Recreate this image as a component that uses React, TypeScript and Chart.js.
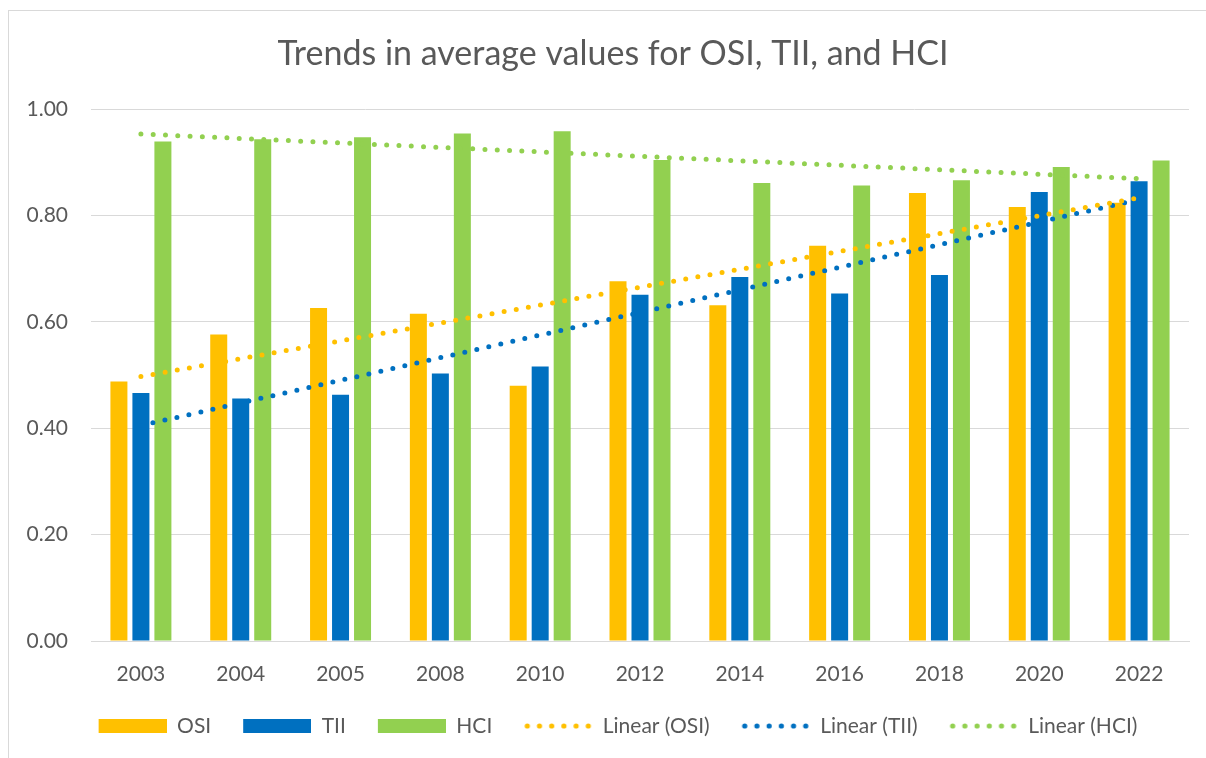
import React, { useEffect, useRef } from "react";
import { Chart, registerables } from "chart.js";

Chart.register(...registerables);

const categories = ["2003", "2004", "2005", "2008", "2010", "2012", "2014", "2016", "2018", "2020", "2022"];
const osiValues = [0.488, 0.576, 0.626, 0.615, 0.480, 0.676, 0.631, 0.743, 0.842, 0.816, 0.824];
const tiiValues = [0.466, 0.456, 0.463, 0.503, 0.516, 0.651, 0.684, 0.653, 0.688, 0.844, 0.864];
const hciValues = [0.939, 0.943, 0.947, 0.954, 0.958, 0.904, 0.861, 0.856, 0.866, 0.891, 0.903];
// Linear trend lines: values at first and last category
const osiTrendEnds = [0.497, 0.833];
const tiiTrendEnds = [0.405, 0.830];
const hciTrendEnds = [0.953, 0.869];
const yTicks = [0, 0.2, 0.4, 0.6, 0.8, 1.0];

const seriesNames = ["OSI", "TII", "HCI", "Linear (OSI)", "Linear (TII)", "Linear (HCI)"];
const COLORS = { osi: "#FFC000", tii: "#0070C0", hci: "#92D050" };
const FONT = "Lato, 'Open Sans', sans-serif";
const TEXT = "#595959";

function trendSeries(ends: number[]) {
  return categories.map((_, i) => (i === 0 ? ends[0] : i === categories.length - 1 ? ends[1] : null));
}

function makeSwatch(color: string, dotted: boolean): HTMLCanvasElement {
  const lead = 24;
  const c = document.createElement("canvas");
  c.width = 68 + lead;
  c.height = 14;
  const g = c.getContext("2d")!;
  g.fillStyle = color;
  if (dotted) {
    for (let i = 0; i < 6; i++) {
      g.beginPath();
      g.arc(lead + 3 + i * 12.2, 7, 2.6, 0, Math.PI * 2);
      g.fill();
    }
  } else {
    g.fillRect(lead, 0, 68, 14);
  }
  return c;
}

// shifts the title and legend boxes a little to the right, as in the reference
const shiftBoxes = {
  id: "shiftBoxes",
  afterLayout(chart: any) {
    if (chart.titleBlock) chart.titleBlock.left += 28;
    if (chart.legend) chart.legend.left += 14;
  },
};

export default function App() {
  const ref = useRef<HTMLCanvasElement | null>(null);

  useEffect(() => {
    if (!ref.current) return;
    const swatches = [
      makeSwatch(COLORS.osi, false),
      makeSwatch(COLORS.tii, false),
      makeSwatch(COLORS.hci, false),
      makeSwatch(COLORS.osi, true),
      makeSwatch(COLORS.tii, true),
      makeSwatch(COLORS.hci, true),
    ];
    const lineDs = (label: string, data: (number | null)[], color: string) => ({
      type: "line" as const,
      label,
      data,
      borderColor: color,
      backgroundColor: color,
      borderWidth: 5,
      borderDash: [0, 12.3],
      borderCapStyle: "round" as const,
      pointRadius: 0,
      spanGaps: true,
      fill: false,
      order: 0,
    });
    const barDs = (label: string, data: number[], color: string) => ({
      type: "bar" as const,
      label,
      data,
      backgroundColor: color,
      borderWidth: 0,
      categoryPercentage: 0.661,
      barPercentage: 0.773,
      order: 1,
    });

    const chart = new Chart(ref.current, {
      type: "bar",
      plugins: [shiftBoxes],
      data: {
        labels: categories,
        datasets: [
          barDs(seriesNames[0], osiValues, COLORS.osi),
          barDs(seriesNames[1], tiiValues, COLORS.tii),
          barDs(seriesNames[2], hciValues, COLORS.hci),
          lineDs(seriesNames[3], trendSeries(osiTrendEnds), COLORS.osi),
          lineDs(seriesNames[4], trendSeries(tiiTrendEnds), COLORS.tii),
          lineDs(seriesNames[5], trendSeries(hciTrendEnds), COLORS.hci),
        ] as any,
      },
      options: {
        animation: false,
        responsive: false,
        devicePixelRatio: 1,
        layout: { padding: { left: 0, right: 17, top: 0, bottom: 11.5 } },
        plugins: {
          title: {
            display: true,
            text: "Trends in average values for OSI, TII, and HCI",
            color: TEXT,
            font: { family: FONT, size: 34, weight: "normal" as any },
            padding: { top: 23, bottom: 34.2 },
          },
          legend: {
            display: true,
            position: "bottom",
            labels: {
              color: TEXT,
              font: { family: FONT, size: 21 },
              usePointStyle: true,
              pointStyleWidth: 92,
              padding: 8,
              generateLabels: () =>
                seriesNames.map((name, i) => ({
                  text: name,
                  fillStyle: "transparent",
                  strokeStyle: "transparent",
                  lineWidth: 0,
                  pointStyle: swatches[i],
                  hidden: false,
                  datasetIndex: i,
                  fontColor: TEXT,
                })) as any,
            },
          },
          tooltip: { enabled: false },
        },
        scales: {
          x: {
            grid: { display: false, drawTicks: false },
            border: { display: true, color: "#d9d9d9", width: 1 },
            ticks: { color: TEXT, font: { family: FONT, size: 21 }, padding: 21, maxRotation: 0 },
            afterFit: (s: any) => {
              s.height = 66.5;
            },
          },
          y: {
            min: 0,
            max: 1,
            afterBuildTicks: (s: any) => {
              s.ticks = yTicks.map((v) => ({ value: v }));
            },
            grid: { color: "#d9d9d9", lineWidth: 1, drawTicks: false },
            border: { display: false },
            ticks: {
              color: TEXT,
              font: { family: FONT, size: 21 },
              padding: 23,
              callback: (v: any) => Number(v).toFixed(2),
            },
            afterFit: (s: any) => {
              s.width = 82;
            },
          },
        },
      },
    });
    return () => chart.destroy();
  }, []);

  return (
    <div
      style={{
        position: "fixed",
        left: 8,
        top: 10,
        width: 1198,
        height: 748,
        borderTop: "1px solid #d9d9d9",
        borderLeft: "1px solid #d9d9d9",
        background: "#ffffff",
      }}
    >
      <canvas ref={ref} width={1197} height={747} style={{ display: "block", width: 1197, height: 747 }} />
    </div>
  );
}
